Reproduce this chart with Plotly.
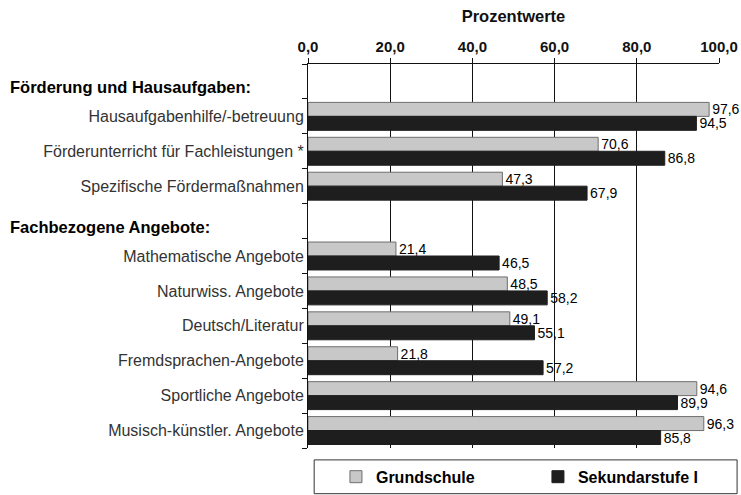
import plotly.graph_objects as go

# Categories top to bottom; "h1"/"h2" are the rows that carry the group headers
categories = ["h1", "Hausaufgabenhilfe/-betreuung", "Förderunterricht für Fachleistungen *",
              "Spezifische Fördermaßnahmen", "h2", "Mathematische Angebote",
              "Naturwiss. Angebote", "Deutsch/Literatur", "Fremdsprachen-Angebote",
              "Sportliche Angebote", "Musisch-künstler. Angebote"]
tick_labels = ["", "Hausaufgabenhilfe/-betreuung", "Förderunterricht für Fachleistungen *",
               "Spezifische Fördermaßnahmen", "", "Mathematische Angebote",
               "Naturwiss. Angebote", "Deutsch/Literatur", "Fremdsprachen-Angebote",
               "Sportliche Angebote", "Musisch-künstler. Angebote"]
grundschule = [None, 97.6, 70.6, 47.3, None, 21.4, 48.5, 49.1, 21.8, 94.6, 96.3]
sekundarstufe = [None, 94.5, 86.8, 67.9, None, 46.5, 58.2, 55.1, 57.2, 89.9, 85.8]
headers = {"h1": "Förderung und Hausaufgaben:", "h2": "Fachbezogene Angebote:"}
x_ticks = [0, 20, 40, 60, 80, 100]
x_tick_labels = ["0,0", "20,0", "40,0", "60,0", "80,0", "100,0"]


def fmt(vals):
    return ["" if v is None else f"{v:.1f}".replace(".", ",") for v in vals]


fig = go.Figure()
fig.add_trace(go.Bar(
    y=categories, x=grundschule, orientation="h", name="<b>Grundschule</b>",
    marker=dict(color="#c8c8c8", line=dict(color="#6e6e6e", width=1)),
    text=fmt(grundschule), textposition="outside", cliponaxis=False,
    constraintext="none", textfont=dict(size=14, color="#000000")))
fig.add_trace(go.Bar(
    y=categories, x=sekundarstufe, orientation="h", name="<b>Sekundarstufe I</b>",
    marker=dict(color="#1e1e1e", line=dict(color="#1e1e1e", width=1)),
    text=fmt(sekundarstufe), textposition="outside", cliponaxis=False,
    constraintext="none", textfont=dict(size=14, color="#000000")))

# Group headers, left aligned in the label area
for key, label in headers.items():
    fig.add_annotation(x=0, xref="paper", xanchor="left", xshift=-300,
                       y=key, yref="y", yshift=-6, text="<b>" + label + "</b>",
                       showarrow=False, font=dict(size=16.5, color="#000000"))

# frame around the legend
fig.add_shape(type="rect", xref="paper", yref="paper",
              x0=0.015, x1=1.044, y0=-0.119, y1=-0.031,
              line=dict(color="#333333", width=1), fillcolor="rgba(0,0,0,0)")

fig.update_layout(
    width=741, height=495,
    margin=dict(l=308, r=22, t=64, b=47, autoexpand=False),
    paper_bgcolor="white", plot_bgcolor="white",
    font=dict(family="Liberation Sans, Arial, sans-serif", size=16, color="#222222"),
    barmode="group", bargap=0.2, bargroupgap=0.0,
    showlegend=True,
    legend=dict(orientation="h", x=0.068, xanchor="left", y=-0.075, yanchor="middle",
                borderwidth=0, entrywidth=157, bgcolor="rgba(0,0,0,0)",
                font=dict(size=16, color="#000000"), traceorder="normal"),
    title=dict(text="<b>Prozentwerte</b>", xref="paper", x=0.5, xanchor="center",
               y=1 - 16 / 495, yref="container", yanchor="middle",
               font=dict(size=16.5, color="#111111")),
)
fig.update_xaxes(side="top", range=[0, 100], tickvals=x_ticks,
                 ticktext=["<b>" + t + "</b>" for t in x_tick_labels],
                 showgrid=True, gridcolor="#111111", gridwidth=1,
                 showline=True, linecolor="#111111", ticks="outside", ticklen=5,
                 tickcolor="#111111", zeroline=False, automargin=False,
                 tickfont=dict(size=15, color="#111111"))
fig.update_yaxes(categoryorder="array", categoryarray=categories, autorange="reversed",
                 tickvals=categories, ticktext=tick_labels, tickson="boundaries",
                 showline=True, linecolor="#111111", ticks="outside", ticklen=5,
                 tickcolor="#111111", showgrid=False, automargin=False,
                 tickfont=dict(size=16, color="#333333"))

# drop the default body margin so the figure fills the window exactly
fig.write_html("out.html", config={"displayModeBar": False},
               post_script="document.body.style.margin = '0';")
